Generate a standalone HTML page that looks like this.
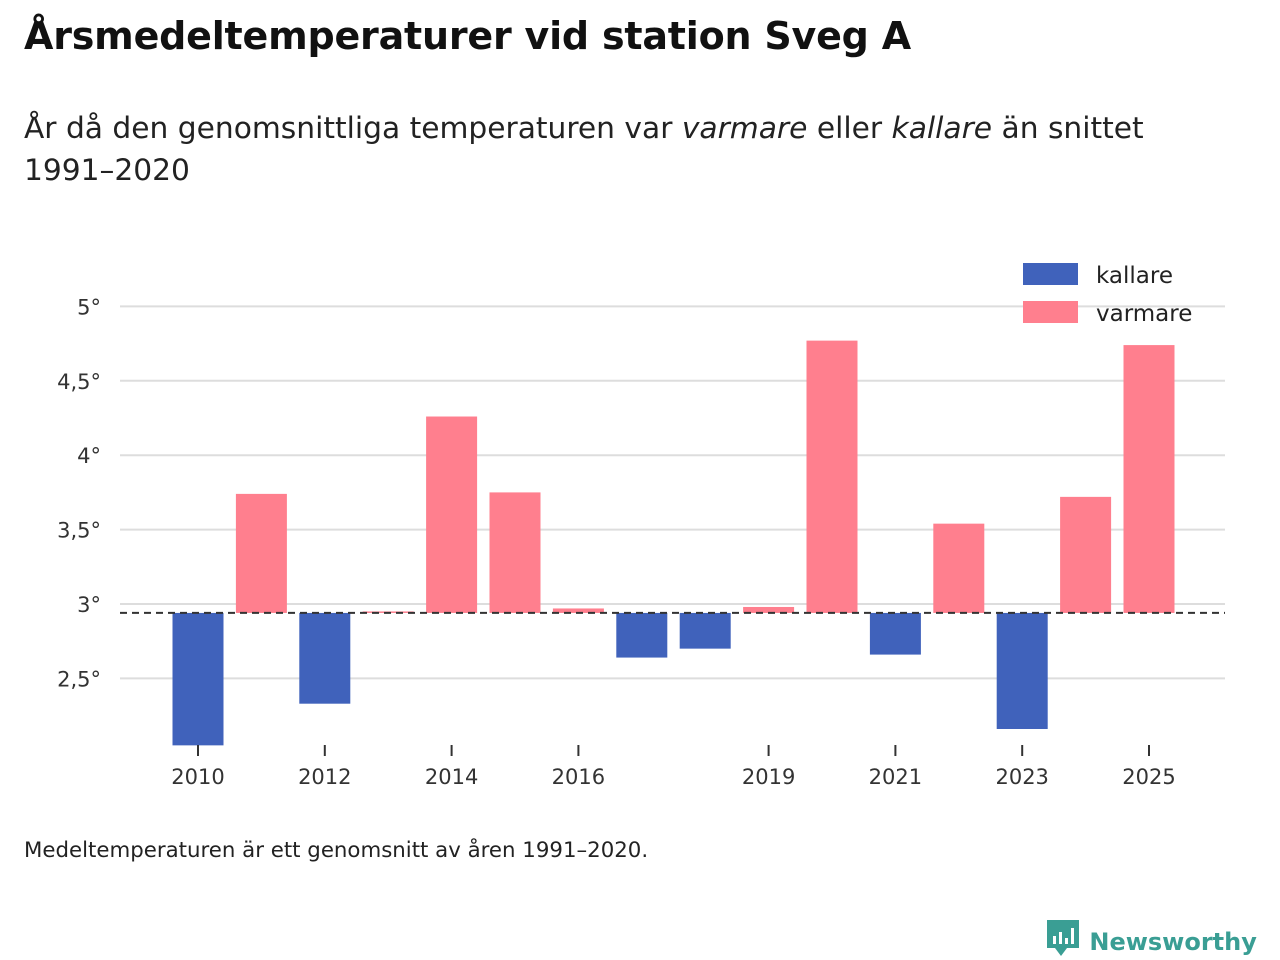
<!DOCTYPE html>
<html><head><meta charset="utf-8">
<style>
body{margin:0;width:1280px;height:960px;background:#fff;font-family:"DejaVu Sans","Liberation Sans",sans-serif;color:#111;position:relative;overflow:hidden}
h1{position:absolute;left:24px;top:14px;margin:0;font-size:38px;font-weight:bold;letter-spacing:-0.2px}
.sub{position:absolute;left:24px;top:108px;font-size:29.7px;line-height:42px;color:#222}
.note{position:absolute;left:24px;top:838px;font-size:21.3px;color:#222}
.logo{position:absolute;left:1045px;top:918px;font-size:24px;font-weight:bold;color:#3a9e94}
</style></head><body>
<h1>Årsmedeltemperaturer vid station Sveg A</h1>
<div class="sub">År då den genomsnittliga temperaturen var <i>varmare</i> eller <i>kallare</i> än snittet<br>1991–2020</div>
<svg id="chart" width="1280" height="960" style="position:absolute;left:0;top:0"></svg>
<div class="note">Medeltemperaturen är ett genomsnitt av åren 1991–2020.</div>
<div class="logo"><svg width="36" height="40" viewBox="0 0 36 40" style="vertical-align:-8px"><path d="M2 2h32v28H22l-6 8-6-8H2z" fill="#3a9e94"/><rect x="8" y="18" width="3" height="8" fill="#fff"/><rect x="14" y="14" width="3" height="12" fill="#fff"/><rect x="20" y="20" width="3" height="6" fill="#fff"/><rect x="26" y="10" width="3" height="16" fill="#fff"/></svg> Newsworthy</div>
<script>
const years=[2010,2011,2012,2013,2014,2015,2016,2017,2018,2019,2020,2021,2022,2023,2024,2025];
const temps=[2.05,3.74,2.33,2.95,4.26,3.75,2.97,2.64,2.70,2.98,4.77,2.66,3.54,2.16,3.72,4.74];
const baseline=2.94;
const yTicks=[2.5,3,3.5,4,4.5,5];
const yTickLabels=["2,5°","3°","3,5°","4°","4,5°","5°"];
const xTicks=[2010,2012,2014,2016,2019,2021,2023,2025];
const svg=document.getElementById('chart');
const NS='http://www.w3.org/2000/svg';
const y=v=>604-(v-3)*148.8;
const x=yr=>198+(yr-2010)*63.4;
function mk(t,a){const e=document.createElementNS(NS,t);for(const k in a)e.setAttribute(k,a[k]);svg.appendChild(e);return e;}
yTicks.forEach((v,i)=>{
 const g=mk('line',{x1:120,x2:1225,y1:y(v),y2:y(v),stroke:'#ddd','stroke-width':2});
 
 
 const t=mk('text',{x:101,y:y(v)+8,'text-anchor':'end','font-size':21,fill:'#333','font-family':'DejaVu Sans, sans-serif'});
 t.textContent=yTickLabels[i];
 
 
});
years.forEach((yr,i)=>{
 const v=temps[i];const warm=v>=baseline;
 const top=y(Math.max(v,baseline)),bot=y(Math.min(v,baseline));
 const r=mk('rect',{x:x(yr)-25.5,y:top,width:51,height:Math.max(bot-top,1),fill:warm?'#ff7f8e':'#4062bb'});
 
 
});
const bl=mk('line',{x1:120,x2:1225,y1:y(baseline),y2:y(baseline),stroke:'#333','stroke-width':2,'stroke-dasharray':'7,5'});


xTicks.forEach(yr=>{
 const l=mk('line',{x1:x(yr),x2:x(yr),y1:745,y2:756,stroke:'#333','stroke-width':2});
 
 
 const t=mk('text',{x:x(yr),y:784,'text-anchor':'middle','font-size':21,fill:'#333','font-family':'DejaVu Sans, sans-serif'});
 t.textContent=yr;
 
 
});
[['kallare','#4062bb',274],['varmare','#ff7f8e',312]].forEach(([n,c,yy])=>{
 const r=mk('rect',{x:1023,y:yy-11,width:55,height:22,fill:c});
 
 
 const t=mk('text',{x:1096,y:yy+9,'font-size':23,fill:'#222','font-family':'DejaVu Sans, sans-serif'});
 t.textContent=n;
 
 
});
</script>
</body></html>
